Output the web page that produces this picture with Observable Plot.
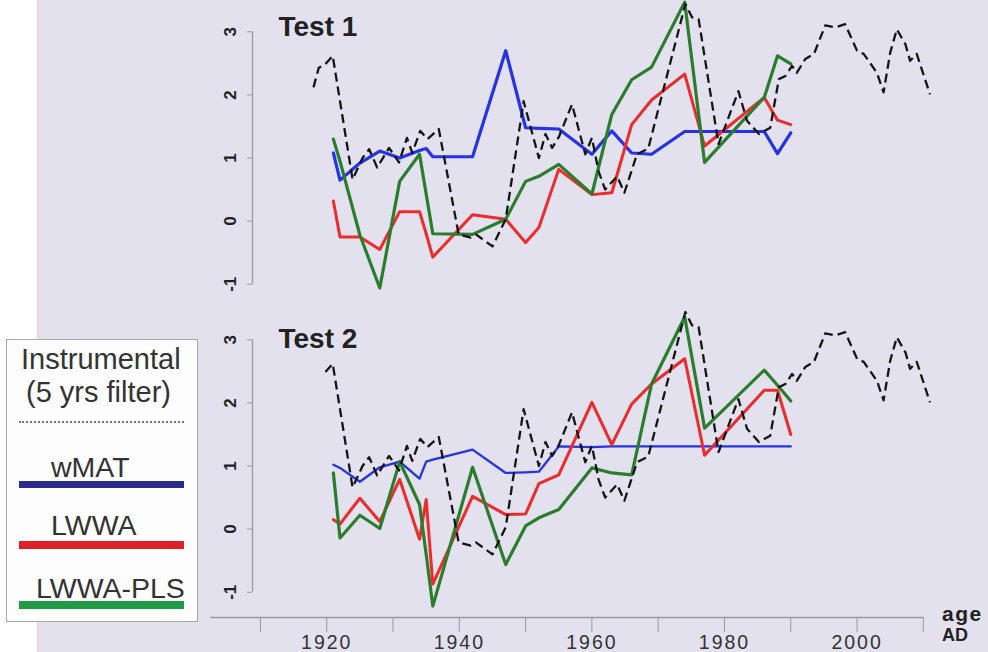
<!DOCTYPE html>
<html>
<head>
<meta charset="utf-8">
<script src="https://cdn.jsdelivr.net/npm/d3@7"></script>
<script src="https://cdn.jsdelivr.net/npm/@observablehq/plot@0.6"></script>
<style>
  html, body { margin: 0; padding: 0; background: #fff; }
  #wrap { position: relative; width: 988px; height: 652px; overflow: hidden;
          background: #e3e1ee; font-family: "Liberation Sans", Arial, sans-serif; }
  #strip { position: absolute; left: 0; top: 0; width: 37px; height: 652px;
           background: #fff; border-right: 2px solid #f1d3da; }
  #chart { position: absolute; left: 0; top: 0; }
  #chart svg g[aria-label="x-axis tick label"] text { letter-spacing: 2px; }
  #legend { position: absolute; left: 6px; top: 339px; width: 192px; height: 283px;
            box-sizing: border-box; background: #fdfdfd; border: 1px solid #a8a8a8; }
  #legend .t { position: absolute; font-size: 29px; line-height: 29px; color: #333; white-space: nowrap; }
  #legend .s { position: absolute; left: 12px; width: 165px; }
  #legend .dots { position: absolute; left: 12px; top: 81px; width: 165px; border-top: 2px dotted #777; }
  .unit { position: absolute; left: 942px; font-weight: bold; color: #222; line-height: 18px; }
</style>
</head>
<body>
<div id="wrap">
  <div id="strip"></div>
  <div id="chart"></div>
  <div id="legend">
    <div class="t" style="left:14px;top:5px">Instrumental</div>
    <div class="t" style="left:19px;top:38px">(5 yrs filter)</div>
    <div class="dots"></div>
    <div class="t" style="left:44px;top:113px;font-size:28.5px">wMAT</div>
    <div class="s" style="top:141px;height:7px;background:#2b2b8e"></div>
    <div class="t" style="left:44px;top:171px;font-size:28.5px">LWWA</div>
    <div class="s" style="top:201px;height:8px;background:#dc2228"></div>
    <div class="t" style="left:29px;top:234px;font-size:28.5px">LWWA-PLS</div>
    <div class="s" style="top:261px;height:8px;background:#1f9b45"></div>
  </div>
  <div class="unit" style="top:605px;font-size:21px;letter-spacing:1.5px">age</div>
  <div class="unit" style="top:626px;font-size:18px">AD</div>
</div>
<script>
// Sample years of the reconstructions (shared by both tests)
const sampleYears = [1921, 1922, 1925, 1928, 1931, 1934, 1935, 1936, 1942, 1947, 1950,
                     1952, 1955, 1960, 1963, 1966, 1969, 1974, 1977, 1986, 1988, 1990];

// Test 1 reconstructions
const wmatTest1 = [1.08, 0.65, 0.92, 1.11, 1.00, 1.12, 1.15, 1.02, 1.02, 2.70, 1.48,
                   1.47, 1.46, 1.06, 1.43, 1.08, 1.06, 1.42, 1.42, 1.42, 1.07, 1.40];
const lwwaTest1 = [0.32, -0.25, -0.25, -0.45, 0.15, 0.15, -0.20, -0.57, 0.10, 0.03, -0.34,
                   -0.10, 0.82, 0.42, 0.45, 1.53, 1.92, 2.33, 1.19, 1.96, 1.60, 1.53];
const plsTest1  = [1.30, 0.95, -0.22, -1.06, 0.63, 1.06, 0.43, -0.20, -0.21, 0.03, 0.63,
                   0.71, 0.90, 0.43, 1.69, 2.24, 2.44, 3.47, 0.93, 1.96, 2.62, 2.49];

// Test 2 reconstructions
const wmatTest2 = [1.02, 0.97, 0.75, 0.98, 1.07, 0.80, 1.07, 1.10, 1.26, 0.89, 0.90,
                   0.91, 1.31, 1.30, 1.31, 1.31, 1.31, 1.31, 1.31, 1.31, 1.31, 1.31];
const lwwaTest2 = [0.15, 0.08, 0.49, 0.12, 0.79, -0.16, 0.47, -0.87, 0.52, 0.23, 0.24,
                   0.72, 0.86, 2.01, 1.34, 1.98, 2.30, 2.70, 1.17, 2.20, 2.20, 1.50];
const plsTest2  = [0.89, -0.14, 0.22, 0.01, 1.07, 0.39, -0.40, -1.22, 0.98, -0.56, 0.05,
                   0.18, 0.31, 0.97, 0.89, 0.86, 2.30, 3.36, 1.60, 2.52, 2.28, 2.03];

// Instrumental record, 5-year filter
const instYears = [1918.0, 1918.8, 1919.8, 1920.9, 1923.9, 1925.4, 1926.4, 1927.6, 1929.4, 1930.9,
                   1932.1, 1932.9, 1934.1, 1935.2, 1936.9, 1939.9, 1941.7, 1942.5, 1945.0, 1947.0,
                   1949.7, 1952.0, 1953.0, 1954.0, 1955.0, 1957.0, 1959.0, 1960.0, 1961.0, 1962.0,
                   1963.8, 1964.9, 1966.8, 1968.5, 1974.1, 1975.1, 1976.1, 1979.1, 1982.1, 1983.4,
                   1985.2, 1986.9, 1988.2, 1989.2, 1990.2, 1990.9, 1992.2, 1993.5, 1995.2, 1996.7,
                   1998.2, 2000.0, 2001.0, 2003.0, 2004.0, 2005.0, 2006.0, 2007.3, 2008.0, 2009.0,
                   2011.0];
const instValues = [2.12, 2.43, 2.49, 2.62, 0.66, 1.00, 1.14, 0.85, 1.16, 0.93,
                    1.32, 1.08, 1.43, 1.30, 1.46, -0.21, -0.26, -0.21, -0.40, 0.03,
                    1.90, 1.00, 1.38, 1.16, 1.33, 1.85, 1.06, 1.32, 0.79, 0.50,
                    0.71, 0.45, 1.06, 1.15, 3.44, 3.23, 3.20, 1.22, 2.06, 1.59,
                    1.38, 1.48, 2.25, 2.30, 2.46, 2.35, 2.57, 2.65, 3.10, 3.07,
                    3.12, 2.70, 2.65, 2.35, 2.04, 2.67, 3.04, 2.80, 2.54, 2.65,
                    2.01];
const instStartTest2 = 1919.5;

// Axes
const panels = ["Test 1", "Test 2"];
const xTicks = [1910, 1920, 1930, 1940, 1950, 1960, 1970, 1980, 1990, 2000, 2010];
const xLabels = [1920, 1940, 1960, 1980, 2000];
const yTicks = [-1, 0, 1, 2, 3];
const xDomain = [1908.8, 2015];
const yDomain = [-1.4, 3.48];
const xAxisStart = 1902.5;

const rows = (years, values, panel) => years.map((year, i) => ({year, value: values[i], panel}));

const inst1 = rows(instYears, instValues, "Test 1");
const inst2 = rows(instYears, instValues, "Test 2").filter(d => d.year >= instStartTest2);

const BLUE = "#2433e8", RED = "#ee2b2b", GREEN = "#2b7d2e";
const series = (values, panel, stroke, strokeWidth) =>
  Plot.line(rows(sampleYears, values, panel), {x: "year", y: "value", fy: "panel", stroke, strokeWidth});
const dashed = data =>
  Plot.line(data, {x: "year", y: "value", fy: "panel", stroke: "#151515", strokeWidth: 2.3,
                   strokeDasharray: "9,5", strokeLinecap: "butt"});

const chart = Plot.plot({
  width: 988,
  height: 652,
  marginLeft: 252,
  marginRight: 32,
  marginTop: 0,
  marginBottom: 35,
  style: {background: "transparent", overflow: "visible", fontFamily: "Liberation Sans, Arial, sans-serif"},
  x: {domain: xDomain, axis: null},
  y: {domain: yDomain, axis: null},
  fy: {domain: panels, axis: null, padding: 0},
  marks: [
    // y axis line and ticks in each panel
    Plot.ruleX([xDomain[0]], {y1: yTicks[0], y2: yTicks[yTicks.length - 1], stroke: "#9a9a9a", strokeWidth: 1.3}),
    Plot.axisY(yTicks, {anchor: "left", label: null, tickSize: 5, tickRotate: -90, tickPadding: 12,
                        tickFormat: d => String(d),
                        fontSize: 17, fontWeight: "bold", stroke: "#9a9a9a", fill: "#222"}),
    // x axis on the lower panel
    Plot.ruleY([yDomain[0]], {fy: ["Test 2"], x1: xAxisStart, x2: xTicks[xTicks.length - 1],
                              stroke: "#9a9a9a", strokeWidth: 1.3}),
    Plot.axisX(xTicks, {anchor: "bottom", label: null, tickSize: 15, tickPadding: 3, fontSize: 19.5,
                        tickFormat: d => xLabels.includes(d) ? String(d) : "",
                        stroke: "#9a9a9a", fill: "#333"}),
    // panel titles
    Plot.text(["Test 1"], {fy: ["Test 1"], frameAnchor: "top-left", dx: 26, dy: 26, lineAnchor: "middle",
                           fontSize: 28, fontWeight: "bold", fill: "#222"}),
    Plot.text(["Test 2"], {fy: ["Test 2"], frameAnchor: "top-left", dx: 26, dy: 30, lineAnchor: "middle",
                           fontSize: 28, fontWeight: "bold", fill: "#222"}),
    // reconstructions
    series(wmatTest1, "Test 1", BLUE, 3.2),
    series(lwwaTest1, "Test 1", RED, 3),
    series(plsTest1, "Test 1", GREEN, 3.2),
    series(wmatTest2, "Test 2", BLUE, 2.3),
    series(lwwaTest2, "Test 2", RED, 3),
    series(plsTest2, "Test 2", GREEN, 3.2),
    // instrumental record
    dashed(inst1),
    dashed(inst2)
  ]
});

document.getElementById("chart").appendChild(chart);
</script>
</body>
</html>
